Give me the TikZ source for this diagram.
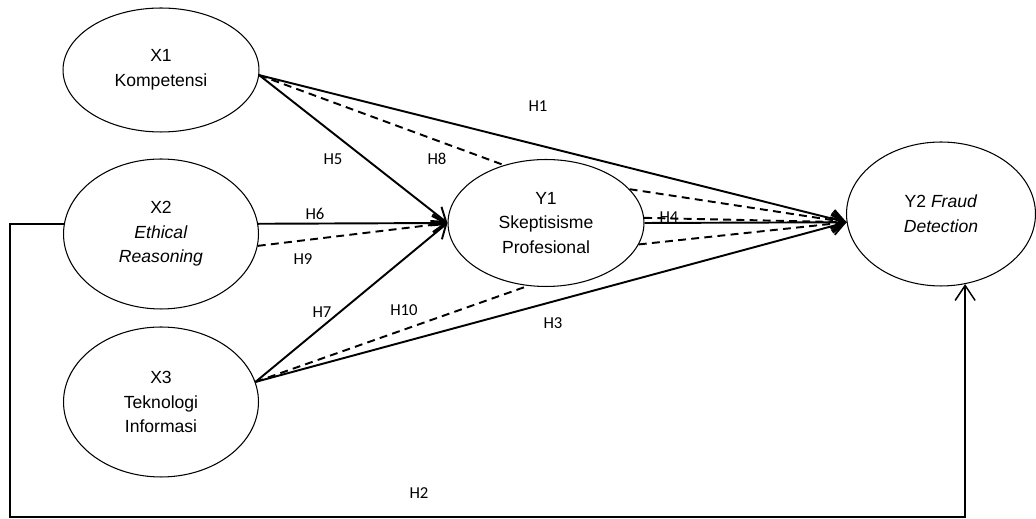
\documentclass[tikz,border=0pt]{standalone}
\usepackage{fontspec}
\setmainfont{Liberation Sans}
\newfontfamily\hfont{Carlito}
\usetikzlibrary{arrows.meta,shapes.geometric}

\begin{document}
\begin{tikzpicture}[x=0.02cm,y=-0.02cm,
    latent/.style={draw,ellipse,line width=0.6pt,align=center,inner sep=0pt,
      font=\fontsize{10}{14}\selectfont},
    hyp/.style={line width=1.1pt,-{Straight Barb[length=2.6mm,width=3.6mm]}},
    medi/.style={line width=1.1pt,dash pattern=on 4.5pt off 3pt},
    mediarrow/.style={medi,-{Straight Barb[length=2.6mm,width=3.6mm]}},
    hlbl/.style={font=\hfont\fontsize{9.5}{11}\selectfont,inner sep=0pt}]
        \useasboundingbox (0,0) rectangle (1036,519);
        % constructs
        \node[latent,minimum width=3.92cm,minimum height=2.48cm] (x1) at (161,70)
          {X1\\Kompetensi};
        \node[latent,minimum width=3.9cm,minimum height=3cm] (x2) at (161,234)
          {X2\\\textit{Ethical}\\\textit{Reasoning}};
        \node[latent,minimum width=3.9cm,minimum height=3cm] (x3) at (161,402)
          {X3\\Teknologi\\Informasi};
        \node[latent,minimum width=3.92cm,minimum height=2.54cm] (y1) at (546,223)
          {Y1\\Skeptisisme\\Profesional};
        \node[latent,minimum width=3.78cm,minimum height=2.88cm] (y2) at (941,214)
          {Y2 \textit{Fraud}\\\textit{Detection}};
        % direct paths
        \draw[hyp] (x1.-3) -- (y2.185);
        \draw[hyp] (x1.-3) -- (y1.west);
        \draw[hyp] (x2.6) -- (y1.west);
        \draw[hyp] (x3.12) -- (y1.west);
        \draw[hyp] (x3.12) -- (y2.185);
        \draw[hyp] (y1.east) -- (y2.185);
        % mediated paths
        \draw[medi] (x1.-3) -- (y1.126);
        \draw[mediarrow] (y1.22) -- (y2.185);
        \draw[mediarrow] (x2.-7) -- (y1.west);
        \draw[mediarrow] (y1.3) -- (y2.185);
        \draw[medi] (x3.12) -- (y1.-106);
        \draw[mediarrow] (y1.-13) -- (y2.185);
        % H2 round the bottom
        \coordinate (h2corner) at (10,517);
        \draw[line width=0.85pt,-{Straight Barb[length=3mm,width=4mm]}]
          (x2.174) -| (h2corner) -| (y2.-71);
        % labels
        \foreach \t/\x/\y in {H1/538/106,H5/333/159,H8/437/159,H6/315/214,
            H9/303/259,H7/322/312,H10/404/310,H3/553/323,H4/669/217,H2/419/493}
          \node[hlbl] (\t) at (\x,\y) {\t};
\end{tikzpicture}
\end{document}
